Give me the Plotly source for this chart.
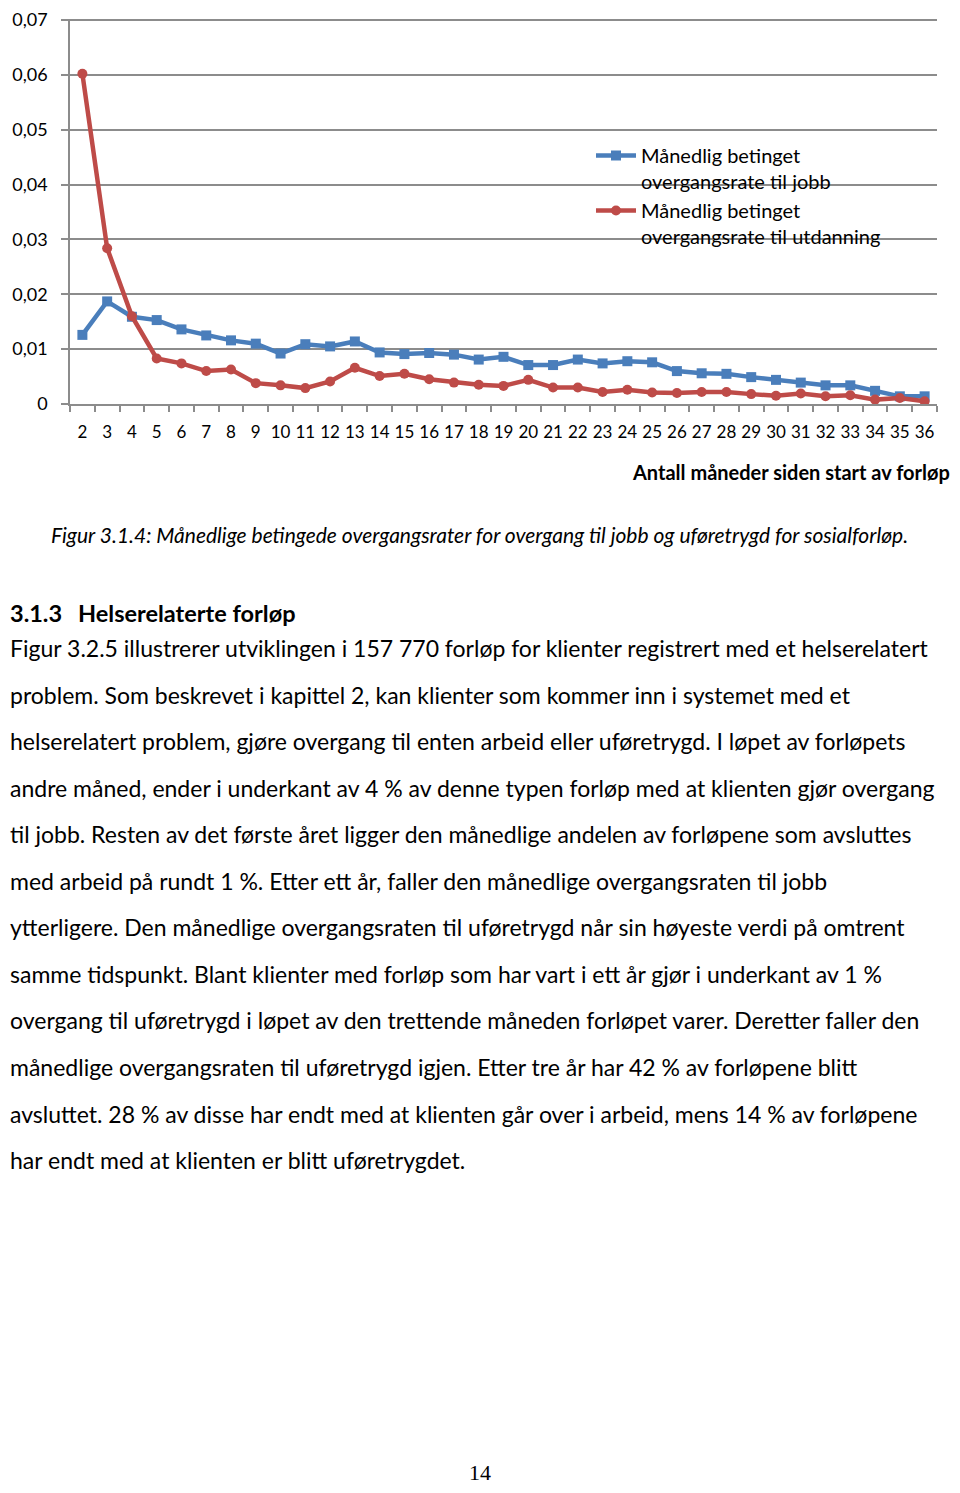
import plotly.graph_objects as go

# the page body adds an 8px margin on every side, so the figure is drawn 16px smaller
OFF = 8
W, H = 960 - 2 * OFF, 1493 - 2 * OFF

# --- data ---
months = [str(m) for m in range(2, 37)]
jobb = [0.0126, 0.0187, 0.0159, 0.0153, 0.0136, 0.0125, 0.0116, 0.0110, 0.0092, 0.0109,
        0.0105, 0.0114, 0.0094, 0.0091, 0.0093, 0.0090, 0.0081, 0.0086, 0.0071, 0.0071,
        0.0081, 0.0074, 0.0078, 0.0076, 0.0060, 0.0056, 0.0055, 0.0049, 0.0044, 0.0039,
        0.0034, 0.0034, 0.0024, 0.0014, 0.0014]
utdanning = [0.0602, 0.0284, 0.0160, 0.0083, 0.0074, 0.0060, 0.0063, 0.0038, 0.0034, 0.0029,
             0.0041, 0.0066, 0.0051, 0.0055, 0.0045, 0.0039, 0.0035, 0.0033, 0.0044, 0.0030,
             0.0030, 0.0022, 0.0026, 0.0021, 0.0020, 0.0022, 0.0022, 0.0018, 0.0015, 0.0019,
             0.0014, 0.0016, 0.0008, 0.0011, 0.0005]
y_tickvals = [0, 0.01, 0.02, 0.03, 0.04, 0.05, 0.06, 0.07]
y_ticktext = ["0", "0,01", "0,02", "0,03", "0,04", "0,05", "0,06", "0,07"]

name_jobb = "Månedlig betinget<br>overgangsrate til jobb"
name_utd = "Månedlig betinget<br>overgangsrate til utdanning"
x_title = "Antall måneder siden start av forløp"
caption = ("Figur 3.1.4: Månedlige betingede overgangsrater for overgang til jobb "
           "og uføretrygd for sosialforløp.")
heading_num = "3.1.3"
heading_txt = "Helserelaterte forløp"
body_lines = [
    "Figur 3.2.5 illustrerer utviklingen i 157 770 forløp for klienter registrert med et helserelatert",
    "problem. Som beskrevet i kapittel 2, kan klienter som kommer inn i systemet med et",
    "helserelatert problem, gjøre overgang til enten arbeid eller uføretrygd. I løpet av forløpets",
    "andre måned, ender i underkant av 4 % av denne typen forløp med at klienten gjør overgang",
    "til jobb. Resten av det første året ligger den månedlige andelen av forløpene som avsluttes",
    "med arbeid på rundt 1 %. Etter ett år, faller den månedlige overgangsraten til jobb",
    "ytterligere. Den månedlige overgangsraten til uføretrygd når sin høyeste verdi på omtrent",
    "samme tidspunkt. Blant klienter med forløp som har vart i ett år gjør i underkant av 1 %",
    "overgang til uføretrygd i løpet av den trettende måneden forløpet varer. Deretter faller den",
    "månedlige overgangsraten til uføretrygd igjen. Etter tre år har 42 % av forløpene blitt",
    "avsluttet. 28 % av disse har endt med at klienten går over i arbeid, mens 14 % av forløpene",
    "har endt med at klienten er blitt uføretrygdet.",
]
page_no = "14"

FONT = "Lato"
BLUE = "#4A7EBB"
RED = "#BE4B48"
GRID = "#8C8C8C"

Y_TOP = 0.0702          # a little headroom so the 0,07 grid line is kept
Y0_PX, Y7_PX = 404, 20  # page rows of 0 and 0,07


def px(x):
    """page pixel column -> paper x"""
    return min(1.0, max(0.0, (x - OFF) / W))


def py(y):
    """page pixel row -> paper y"""
    return min(1.0, max(0.0, 1 - (y - OFF) / H))


top_px = Y0_PX - (Y0_PX - Y7_PX) * Y_TOP / 0.07

fig = go.Figure()
fig.add_trace(go.Scatter(
    x=months, y=jobb, mode="lines+markers", name=name_jobb,
    line=dict(color=BLUE, width=4.5), marker=dict(symbol="square", size=10, color=BLUE),
))
fig.add_trace(go.Scatter(
    x=months, y=utdanning, mode="lines+markers", name=name_utd,
    line=dict(color=RED, width=4.5), marker=dict(symbol="circle", size=10, color=RED),
))

fig.update_layout(
    width=W, height=H,
    margin=dict(l=0, r=0, t=0, b=0, autoexpand=False),
    paper_bgcolor="white", plot_bgcolor="white",
    font=dict(family=FONT, color="black"),
    showlegend=True,
    legend=dict(
        x=px(591), y=py(136), xanchor="left", yanchor="top",
        font=dict(size=20, family=FONT), valign="top",
        bgcolor="rgba(0,0,0,0)", itemwidth=40, tracegroupgap=0,
    ),
    xaxis=dict(
        domain=[px(70), px(937)], type="category", range=[-0.5, len(months) - 0.5],
        automargin=False,
        showgrid=False, showline=True, linecolor=GRID, linewidth=1.5,
        ticks="outside", tickson="boundaries", ticklen=6, tickcolor=GRID, tickwidth=1.5,
        tickfont=dict(size=17), tickangle=0, ticklabelstandoff=12,
    ),
    yaxis=dict(
        domain=[py(Y0_PX), py(top_px)], range=[0, Y_TOP], automargin=False,
        tickvals=y_tickvals, ticktext=y_ticktext,
        showgrid=True, gridcolor=GRID, gridwidth=1.5,
        showline=True, linecolor=GRID, linewidth=1.5,
        ticks="outside", ticklen=7, tickcolor=GRID, tickwidth=1.5,
        tickfont=dict(size=18), ticklabelstandoff=10, zeroline=False,
        ticklabeloverflow="allow",
    ),
)

ann = []
ann.append(dict(text="<b>" + x_title + "</b>", x=px(952), y=py(472), xanchor="right",
                yanchor="middle", font=dict(size=20)))
ann.append(dict(text="<i>" + caption + "</i>", x=px(49), y=py(534), xanchor="left",
                yanchor="middle", font=dict(size=21)))
ann.append(dict(text="<b>" + heading_num + "</b>", x=px(0), y=py(613), xanchor="left",
                yanchor="middle", font=dict(size=23.5)))
ann.append(dict(text="<b>" + heading_txt + "</b>", x=px(76), y=py(613), xanchor="left",
                yanchor="middle", font=dict(size=23.5)))
for i, line in enumerate(body_lines):
    ann.append(dict(text=line, x=px(0), y=py(648 + i * 46.55), xanchor="left",
                    yanchor="middle", font=dict(size=23)))
ann.append(dict(text=page_no, x=px(480), y=py(1472), xanchor="center", yanchor="middle",
                font=dict(size=22, family="Liberation Serif")))
for a in ann:
    a.update(xref="paper", yref="paper", showarrow=False)
fig.update_layout(annotations=ann)

fig.write_html("out.html")
